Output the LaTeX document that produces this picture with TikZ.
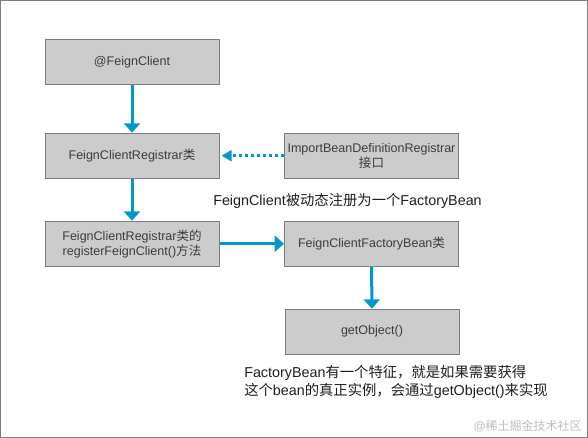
\documentclass[tikz,border=0pt]{standalone}
\usepackage{fontspec}
\setmainfont{Liberation Sans}
\newfontfamily\cjk{Noto Sans CJK SC}
\newcommand{\zh}[1]{{\cjk #1}}
\usetikzlibrary{arrows.meta}

\begin{document}
\begin{tikzpicture}[x=0.75pt,y=0.75pt,yscale=-1,xscale=1,
  box/.style={draw={rgb, 255:red, 127; green, 127; blue, 127 },fill={rgb, 255:red, 204; green, 204; blue, 204 },line width=0.75pt,minimum width=130.5pt,minimum height=33.75pt,inner sep=0.75pt,align=center,font=\fontsize{9.4}{11.2}\selectfont,text={rgb, 255:red, 60; green, 60; blue, 60 }},
  flow/.style={draw={rgb, 255:red, 0; green, 153; blue, 204 },line width=2.25pt,-{Triangle[width=12pt,length=7pt]}},
  hint/.style={draw={rgb, 255:red, 0; green, 153; blue, 204 },line width=2.25pt,dash pattern={on 2.25pt off 2.25pt},-{Triangle[width=8pt,length=7.5pt]}},
  note/.style={inner sep=0.75pt,align=left,font=\fontsize{10.75}{13.5}\selectfont,text={rgb, 255:red, 30; green, 30; blue, 30 }}]
\useasboundingbox (0,0) rectangle (588,438);
%Frame
\draw [color={rgb, 255:red, 127; green, 127; blue, 127 }  ,line width=0.75pt]  (0.5,0.5) rectangle (587.5,437.5) ;

% Boxes
\draw (132,62) node [box] (feign) {@FeignClient};
\draw (132,155.7) node [box] (registrar) {FeignClientRegistrar\zh{类}};
\draw (371.5,155.7) node [box] (importbdr) {ImportBeanDefinitionRegistrar\\\zh{接口}};
\draw (132,243.7) node [box] (regmethod) {FeignClientRegistrar\zh{类的}\\registerFeignClient()\zh{方法}};
\draw (371.5,243.7) node [box] (factorybean) {FeignClientFactoryBean\zh{类}};
\draw (372,331.7) node [box] (getobj) {getObject()};

% Text Node
\draw (212,201) node [note,anchor=west] (dynreg) {FeignClient\zh{被动态注册为一个}FactoryBean};
% Text Node
\draw (243,364) node [note,anchor=north west] (feature) {FactoryBean\zh{有一个特征，就是如果需要获得}\\\zh{这个}bean\zh{的真正实例，会通过}getObject()\zh{来实现}};
% Text Node
\draw (583,426) node [anchor=east,inner sep=0.75pt,font=\fontsize{9}{11}\selectfont,text={rgb, 255:red, 190; green, 190; blue, 190 }] (mark) {@\zh{稀土掘金技术社区}};

%Straight Lines
\draw [flow] (feign) -- (registrar) ;
\draw [flow] (registrar) -- (regmethod) ;
\draw [flow] (regmethod) -- (factorybean) ;
\draw [flow] (factorybean) -- (getobj) ;
%Dotted Line
\draw [hint,shorten >=1.5pt] (importbdr) -- (registrar) ;
\end{tikzpicture}
\end{document}
